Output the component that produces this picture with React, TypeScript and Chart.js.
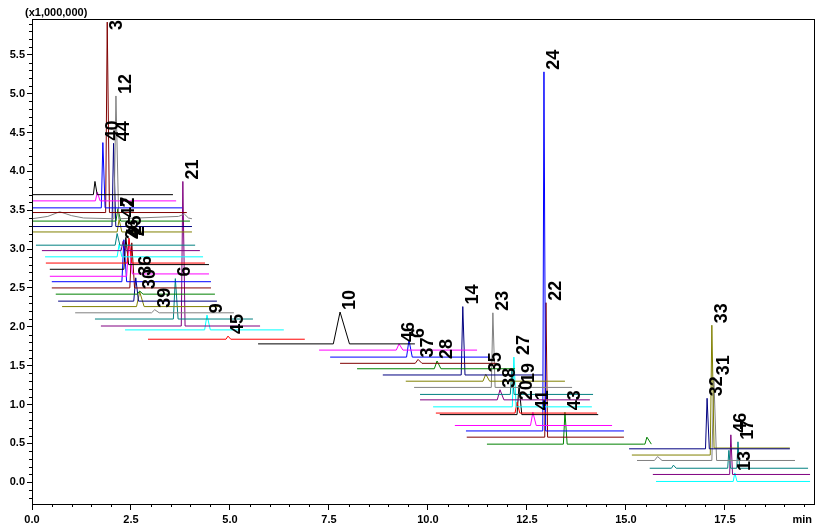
import { useEffect, useRef } from "react";
import { Chart, registerables } from "chart.js";
Chart.register(...registerables);

const FONT = "'Liberation Sans', Arial, sans-serif";

// axis ticks
const xTickValues = [0, 2.5, 5, 7.5, 10, 12.5, 15, 17.5];
const yTickValues = [0, 0.5, 1, 1.5, 2, 2.5, 3, 3.5, 4, 4.5, 5, 5.5];
const xRange = [0, 19.75];
const yRange = [-0.28, 5.96];

const palette = {
  black: "#000000", magenta: "#ff00ff", blue: "#0000ff", maroon: "#800000",
  gray: "#808080", green: "#008000", navy: "#000080", olive: "#808000",
  teal: "#008080", purple: "#800080", cyan: "#00ffff", red: "#ff0000",
};

// traces (chromatogram segments, offset display)
const traceColors = [
  "black", "magenta", "blue", "maroon", "gray", "green", "navy", "olive", "teal", "purple", "cyan", "red",
  "black", "magenta", "blue", "maroon", "green", "navy", "olive", "gray", "teal", "purple", "cyan", "red",
  "black", "magenta", "blue", "maroon", "green", "navy", "olive", "gray", "teal", "purple", "cyan", "red",
  "black", "magenta", "blue", "maroon", "green", "navy", "olive", "gray", "teal", "purple", "cyan",
];
const traceBase = [
  3.70, 3.62, 3.53, 3.47, 3.39, 3.36, 3.29, 3.22, 3.05, 2.98, 2.90, 2.82,
  2.74, 2.65, 2.58, 2.50, 2.42, 2.33, 2.26, 2.18, 2.10, 2.01, 1.96, 1.84,
  1.78, 1.70, 1.61, 1.53, 1.46, 1.38, 1.30, 1.22, 1.13, 1.06, 0.97, 0.89,
  0.87, 0.73, 0.66, 0.58, 0.49, 0.43, 0.35, 0.28, 0.18, 0.10, 0.01,
];
const traceStart = [
  0, 0, 0, 0, 0, 0, 0, 0.02, 0.1, 0.25, 0.33, 0.35,
  0.45, 0.45, 0.5, 0.5, 0.6, 0.66, 0.76, 1.09, 1.59, 1.74, 2.35, 2.93,
  5.71, 7.25, 7.53, 7.78, 8.21, 8.86, 9.44, 9.65, 9.8, 9.8, 10.13, 10.2,
  10.3, 10.68, 10.96, 10.98, 11.49, 15.08, 15.15, 15.28, 15.6, 15.68, 15.76,
];
const traceEnd = [
  3.56, 3.64, 3.79, 3.91, 4.04, 3.99, 4.04, 4.04, 4.12, 4.24, 4.32, 4.37,
  4.47, 4.47, 4.52, 4.52, 4.62, 4.67, 4.7, 5.1, 5.58, 5.76, 6.36, 6.89,
  9.67, 11.24, 11.57, 11.74, 12.2, 12.9, 13.46, 13.64, 14.17, 14.09, 14.14, 14.27,
  14.3, 14.65, 14.95, 14.95, 15.48, 19.14, 19.14, 19.27, 19.6, 19.65, 19.65,
];
// baseline level after the last peak, where it shifts
const stepTrace = [12, 13, 42];
const stepLevel = [2.8, 2.68, 0.44];
// small bumps on noisy baselines
const bumpTrace = [4, 4, 4, 4, 4, 4, 4];
const bumpTime = [0.4, 0.7, 1.0, 1.3, 3.7, 3.85, 3.95];
const bumpValue = [3.42, 3.48, 3.43, 3.4, 3.42, 3.45, 3.4];

// peaks
const peakTrace = [
  0, 1, 2, 3, 4, 5, 6, 7, 8, 9, 10, 11, 12, 13, 14, 15, 16, 17, 18, 19, 20, 21, 22, 23,
  24, 25, 26, 27, 28, 29, 30, 31, 32, 33, 34, 35, 36, 37, 38, 39, 40, 40,
  41, 42, 43, 43, 44, 44, 44, 45, 46,
];
const peakTime = [
  1.59, 1.65, 1.79, 1.9, 2.12, 2.17, 2.06, 2.2, 2.15, 2.3, 2.2, 2.45, 2.37, 2.45, 2.32, 2.52, 2.72, 2.62, 2.72, 3.1, 3.62, 3.81, 4.42, 4.95,
  7.78, 9.27, 9.52, 9.75, 10.23, 10.88, 11.46, 11.64, 12.12, 11.82, 12.17, 12.25, 12.3, 12.65, 12.93, 12.98, 13.46, 15.53,
  17.05, 17.17, 15.8, 17.22, 16.2, 17.6, 17.83, 17.65, 17.75,
];
const peakTop = [
  3.87, 3.73, 4.37, 5.92, 4.97, 3.52, 4.36, 3.38, 3.2, 3.1, 3.06, 3.14, 3.15, 3.12, 3.12, 3.08, 2.46, 2.63, 2.45, 2.22, 2.62, 3.87, 2.15, 1.88,
  2.19, 1.78, 1.83, 1.58, 1.56, 2.26, 1.39, 2.18, 1.45, 1.19, 1.61, 1.03, 1.25, 0.9, 5.28, 2.31, 0.9, 0.58,
  1.08, 2.02, 0.33, 1.35, 0.22, 0.41, 0.52, 0.61, 0.12,
];
const peakWidth = [
  0.04, 0.05, 0.04, 0.04, 0.05, 0.05, 0.04, 0.05, 0.05, 0.05, 0.05, 0.05, 0.05, 0.06, 0.05, 0.05, 0.06, 0.05, 0.08, 0.08, 0.05, 0.04, 0.06, 0.05,
  0.17, 0.07, 0.06, 0.07, 0.07, 0.04, 0.07, 0.04, 0.04, 0.07, 0.04, 0.05, 0.05, 0.06, 0.03, 0.03, 0.04, 0.08,
  0.04, 0.04, 0.08, 0.05, 0.05, 0.03, 0.03, 0.03, 0.04,
];
const peakLabel = [
  "", "", "40", "3", "12", "7", "44", "42", "", "26", "", "2", "25", "", "4", "", "30", "36", "", "39", "6", "21", "9", "45",
  "10", "46", "6", "37", "28", "14", "35", "23", "", "38", "27", "20", "19", "41", "24", "22", "43", "",
  "32", "33", "", "31", "", "", "17", "46", "13",
];

function buildTrace(i: number) {
  const base = traceBase[i];
  const s = stepTrace.indexOf(i);
  const endLevel = s >= 0 ? stepLevel[s] : base;
  const pts: { x: number; y: number }[] = [{ x: traceStart[i], y: base }];
  const ks = peakTrace
    .map((t, k) => (t === i ? k : -1))
    .filter((k) => k >= 0)
    .sort((a, b) => peakTime[a] - peakTime[b]);
  ks.forEach((k, j) => {
    const last = j === ks.length - 1;
    pts.push({ x: peakTime[k] - peakWidth[k], y: base });
    pts.push({ x: peakTime[k], y: peakTop[k] });
    pts.push({ x: peakTime[k] + peakWidth[k] * 1.4, y: last ? endLevel : base });
  });
  bumpTrace.forEach((t, b) => {
    if (t === i) pts.push({ x: bumpTime[b], y: bumpValue[b] });
  });
  pts.push({ x: traceEnd[i], y: endLevel });
  pts.sort((a, b) => a.x - b.x);
  return pts;
}

const decorPlugin = {
  id: "decor",
  afterDatasetsDraw(chart: any) {
    const { ctx, chartArea: a, scales } = chart;
    const x = scales.x;
    const y = scales.y;
    ctx.save();
    ctx.beginPath();
    ctx.rect(a.left, a.top, a.right - a.left, a.bottom - a.top);
    ctx.clip();
    ctx.fillStyle = "#000";
    ctx.font = `bold 18px ${FONT}`;
    ctx.textAlign = "left";
    ctx.textBaseline = "top";
    peakLabel.forEach((lab, k) => {
      if (!lab) return;
      const px = x.getPixelForValue(peakTime[k]);
      const py = y.getPixelForValue(peakTop[k]);
      const w = ctx.measureText(lab).width;
      let sy = py - 2;
      if (sy - w < a.top + 1) sy = a.top + 1 + w;
      ctx.save();
      ctx.translate(px + 1, sy);
      ctx.rotate(-Math.PI / 2);
      ctx.fillText(lab, 0, 0);
      ctx.restore();
    });
    ctx.restore();
  },
  afterDraw(chart: any) {
    const { ctx, chartArea: a, scales } = chart;
    const x = scales.x;
    const y = scales.y;
    ctx.save();
    ctx.strokeStyle = "#000";
    ctx.lineWidth = 1;
    ctx.strokeRect(Math.round(a.left) + 0.5, Math.round(a.top) + 0.5, Math.round(a.right - a.left), Math.round(a.bottom - a.top));
    ctx.beginPath();
    for (let k = Math.ceil(y.min * 10); k <= Math.floor(y.max * 10); k++) {
      if (k % 5 === 0) continue;
      const py = Math.round(y.getPixelForValue(k / 10)) + 0.5;
      ctx.moveTo(a.left - 3, py);
      ctx.lineTo(a.left, py);
    }
    for (let k = 1; k <= Math.floor(x.max * 2); k++) {
      if (k % 5 === 0) continue;
      const px = Math.round(x.getPixelForValue(k / 2)) + 0.5;
      ctx.moveTo(px, a.bottom);
      ctx.lineTo(px, a.bottom + 3);
    }
    ctx.stroke();
    ctx.fillStyle = "#000";
    ctx.font = `bold 11px ${FONT}`;
    ctx.textBaseline = "middle";
    ctx.textAlign = "left";
    ctx.fillText("(x1,000,000)", a.left - 7, a.top - 6);
    ctx.textAlign = "right";
    ctx.fillText("min", a.right - 2, a.bottom + 16);
    ctx.restore();
  },
};

export default function App() {
  const ref = useRef<HTMLCanvasElement | null>(null);
  useEffect(() => {
    if (!ref.current) return;
    const datasets = traceBase.map((_, i) => ({
      data: buildTrace(i),
      borderColor: (palette as any)[traceColors[i]],
      borderWidth: 1,
      pointRadius: 0,
      fill: false,
      tension: 0,
    }));
    const chart = new Chart(ref.current, {
      type: "line",
      data: { datasets },
      options: {
        animation: false,
        responsive: true,
        maintainAspectRatio: false,
        layout: { padding: { top: 19, right: 26, left: 0, bottom: 0 } },
        plugins: { legend: { display: false }, tooltip: { enabled: false } },
        scales: {
          x: {
            type: "linear",
            min: xRange[0],
            max: xRange[1],
            afterBuildTicks: (s: any) => {
              s.ticks = xTickValues.map((v) => ({ value: v }));
            },
            afterFit: (s: any) => {
              s.height = 21;
            },
            ticks: {
              autoSkip: false,
              maxRotation: 0,
              padding: 3,
              color: "#000",
              font: { family: FONT, size: 11, weight: "bold" },
              callback: (v: any) => Number(v).toFixed(1),
            },
            grid: { display: true, drawOnChartArea: false, drawTicks: true, tickLength: 6, color: "#000" },
            border: { display: true, color: "#000" },
          },
          y: {
            type: "linear",
            min: yRange[0],
            max: yRange[1],
            afterBuildTicks: (s: any) => {
              s.ticks = yTickValues.map((v) => ({ value: v }));
            },
            afterFit: (s: any) => {
              s.width = 32;
            },
            ticks: {
              autoSkip: false,
              padding: 2,
              color: "#000",
              font: { family: FONT, size: 11, weight: "bold" },
              callback: (v: any) => Number(v).toFixed(1),
            },
            grid: { display: true, drawOnChartArea: false, drawTicks: true, tickLength: 5, color: "#000" },
            border: { display: true, color: "#000" },
          },
        },
      },
      plugins: [decorPlugin],
    } as any);
    return () => chart.destroy();
  }, []);
  return (
    <div style={{ position: "absolute", left: 0, top: 0, width: 840, height: 525, background: "#fff" }}>
      <canvas ref={ref} />
    </div>
  );
}
